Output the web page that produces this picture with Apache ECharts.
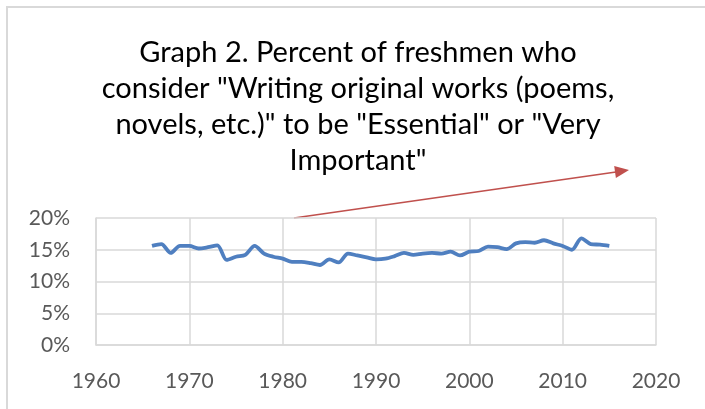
<!DOCTYPE html>
<html>
<head>
<meta charset="utf-8">
<script src="https://cdn.jsdelivr.net/npm/echarts@6/dist/echarts.min.js"></script>
<style>html,body{margin:0;padding:0;background:#fff;}#c{width:705px;height:409px;}</style>
</head>
<body>
<div id="c"></div>
<script>
const years = [1966,1967,1968,1969,1970,1971,1972,1973,1974,1975,1976,1977,1978,1979,1980,1981,1982,1983,1984,1985,1986,1987,1988,1989,1990,1991,1992,1993,1994,1995,1996,1997,1998,1999,2000,2001,2002,2003,2004,2005,2006,2007,2008,2009,2010,2011,2012,2013,2014,2015];
const percent = [15.6,15.9,14.5,15.6,15.6,15.2,15.4,15.7,13.4,13.9,14.2,15.6,14.4,13.9,13.6,13.1,13.1,12.9,12.6,13.5,13.0,14.4,14.1,13.8,13.5,13.6,14.0,14.5,14.2,14.4,14.5,14.4,14.7,14.1,14.7,14.8,15.5,15.4,15.1,16.0,16.2,16.1,16.5,16.0,15.6,15.0,16.8,15.9,15.8,15.6];
const titleLines = ['Graph 2. Percent of freshmen who','consider "Writing original works (poems,','novels, etc.)" to be "Essential" or "Very','Important"'];
const xTicks = {min:1960, max:2020, step:10};
const yTicks = {min:0, max:20, step:5};

const font = 'Lato, "Open Sans", sans-serif';
const chart = echarts.init(document.getElementById('c'), null, {renderer:'canvas'});
chart.setOption({
  animation:false,
  title:{
    text: titleLines.join('\n'),
    left: 353, top: 30, textAlign:'center',
    textStyle:{fontFamily:font, fontSize:29, fontWeight:'normal', color:'#000', lineHeight:36}
  },
  grid:{left:96, right:49, top:218, bottom:64},
  xAxis:{
    type:'value', min:xTicks.min, max:xTicks.max, interval:xTicks.step,
    axisLine:{show:true, lineStyle:{color:'#d9d9d9', width:1.5}},
    axisTick:{show:false},
    splitLine:{show:true, lineStyle:{color:'#d9d9d9', width:1.5}},
    axisLabel:{fontFamily:font, fontSize:21, color:'#595959', margin:26, formatter:v=>String(v)}
  },
  yAxis:{
    type:'value', min:yTicks.min, max:yTicks.max, interval:yTicks.step,
    axisLine:{show:true, lineStyle:{color:'#d9d9d9', width:1.5}},
    axisTick:{show:false},
    splitLine:{show:true, lineStyle:{color:'#d9d9d9', width:1.5}},
    axisLabel:{fontFamily:font, fontSize:21, color:'#595959', margin:26, formatter:v=>v+'%'}
  },
  series:[{
    type:'line', data: years.map((y,i)=>[y, percent[i]]),
    smooth:0.3, showSymbol:false,
    lineStyle:{color:'#4f7fc0', width:3.8}
  }],
  graphic:[
    {type:'rect', shape:{x:7,y:7,width:720,height:420}, style:{fill:'none', stroke:'#d9d9d9', lineWidth:2}, z:-1},
    {type:'line', shape:{x1:294,y1:218,x2:616,y2:172}, style:{stroke:'#c0504d', lineWidth:1.5}},
    {type:'polygon', shape:{points:[[629,170],[615.9,177.9],[614.2,166.1]]}, style:{fill:'#c0504d'}}
  ]
});
</script>
</body>
</html>
